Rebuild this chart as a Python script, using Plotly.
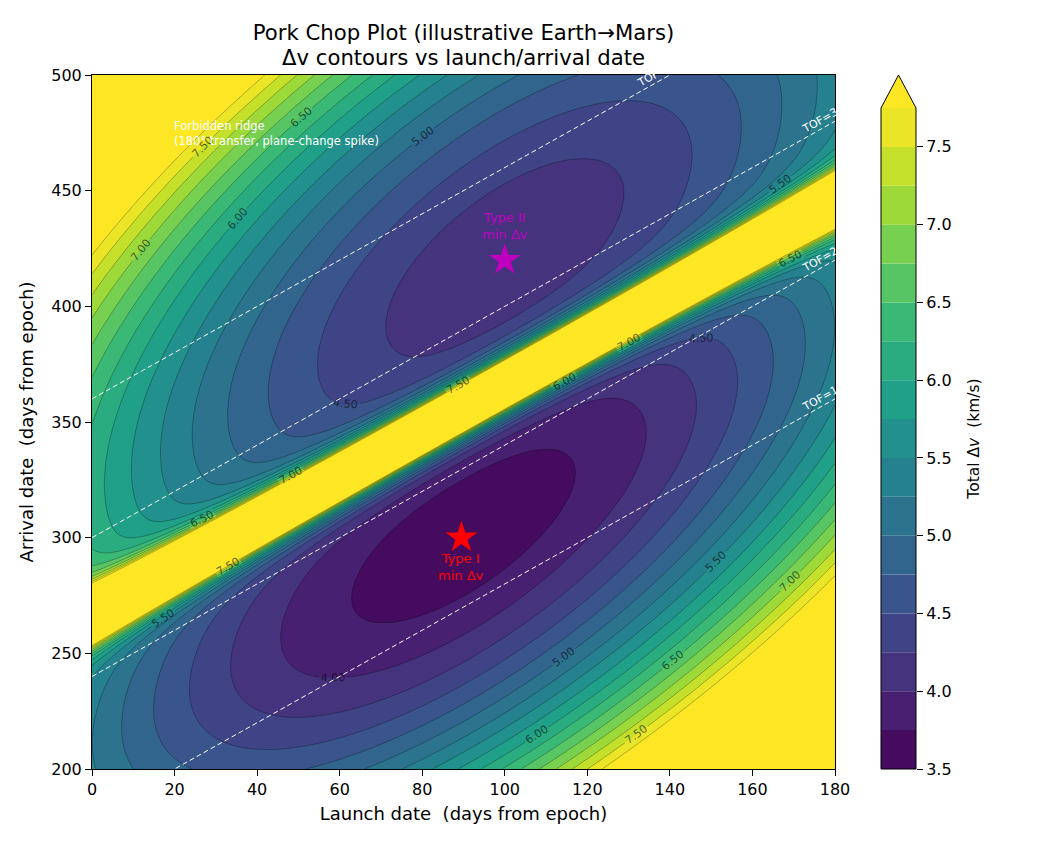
import numpy as np
import plotly.graph_objects as go
from plotly.colors import sample_colorscale

# ---------------- data ----------------
launch_range = [0, 180]          # launch date, days from epoch
arrival_range = [200, 500]       # arrival date, days from epoch
grid_step = 1.0

# contour levels of total delta-v (km/s)
levels = [3.50, 3.75, 4.00, 4.25, 4.50, 4.75, 5.00, 5.25, 5.50,
          5.75, 6.00, 6.25, 6.50, 6.75, 7.00, 7.25, 7.50, 7.75]
label_levels = [4.00, 4.50, 5.00, 5.50, 6.00, 6.50, 7.00, 7.50]
cbar_ticks = [3.5, 4.0, 4.5, 5.0, 5.5, 6.0, 6.5, 7.0, 7.5]

# Type I basin (launch, TOF) centre, minimum and widths
type1_center = [90, 211]
type1_min = 3.60
type1_width = [70, 68]
# Type II basin
type2_center = [100, 320]
type2_min = 4.08
type2_width = [70, 80]
# 180-degree transfer ridge
ridge_tof = 266
ridge_height = 50.0
ridge_decay = 4.0

# time-of-flight guide lines (days)
tof_lines = [180, 240, 300, 360]

# minimum markers
min_names = ["Type I<br>min Δv", "Type II<br>min Δv"]
min_launch = [89.5, 100]
min_arrival = [300, 420]
min_colors = ["#ff0000", "#bf00bf"]

# ---------------- field ----------------
launch = np.arange(launch_range[0], launch_range[1] + grid_step, grid_step)
arrival = np.arange(arrival_range[0], arrival_range[1] + grid_step, grid_step)
U, V = np.meshgrid(launch, arrival)
T = V - U
f1 = type1_min + ((U - type1_center[0]) / type1_width[0]) ** 2 + ((T - type1_center[1]) / type1_width[1]) ** 2
f2 = type2_min + ((U - type2_center[0]) / type2_width[0]) ** 2 + ((T - type2_center[1]) / type2_width[1]) ** 2
Z = np.where(T < ridge_tof, f1, f2) + ridge_height * np.exp(-np.abs(T - ridge_tof) / ridge_decay)
Z = np.round(np.minimum(Z, 9.0), 3)

# ---------------- colours ----------------
nb = len(levels) - 1
band_colors = sample_colorscale("Viridis", [(k + 0.5) / nb for k in range(nb)])
over_color = "#fde725"
fill_cols = [band_colors[0]] + band_colors + [over_color]   # background, bands, over
nfill = len(levels)
cscale = []
edges = [0.0] + [(j + 0.5) / nfill for j in range(nfill)] + [1.0]
for j, c in enumerate(fill_cols):
    cscale.append([edges[j], c])
    cscale.append([edges[j + 1], c])

FONT = "DejaVu Sans"
line_col = "rgba(0,0,0,0.55)"

fig = go.Figure()
cs = levels[1] - levels[0]
fig.add_trace(go.Contour(
    x=launch, y=arrival, z=Z, colorscale=cscale, showscale=False,
    zmin=levels[0] - cs / 2, zmax=levels[-1] + cs / 2,
    contours=dict(start=levels[0], end=levels[-1], size=cs, coloring="fill", showlines=False),
    line=dict(width=0), hoverinfo="skip"))
fig.add_trace(go.Contour(
    x=launch, y=arrival, z=Z, showscale=False,
    contours=dict(start=levels[1], end=levels[-1], size=2 * cs, coloring="none"),
    line=dict(color=line_col, width=0.5), hoverinfo="skip"))
fig.add_trace(go.Contour(
    x=launch, y=arrival, z=Z, showscale=False,
    contours=dict(start=label_levels[0], end=label_levels[-1], size=label_levels[1] - label_levels[0],
                  coloring="none", showlabels=True, labelformat=".2f",
                  labelfont=dict(size=11, color="rgba(0,0,0,0.6)", family=FONT)),
    line=dict(color=line_col, width=0.5), hoverinfo="skip"))

# TOF guide lines
for tof in tof_lines:
    fig.add_trace(go.Scatter(
        x=launch_range, y=[launch_range[0] + tof, launch_range[1] + tof], mode="lines",
        line=dict(color="white", width=1, dash="5px,3px"), hoverinfo="skip", showlegend=False))
    u0 = min(172, arrival_range[1] - tof - 8)
    fig.add_annotation(x=u0, y=u0 + tof, text=f"TOF={tof} d", showarrow=False,
                       textangle=-29.3, xanchor="center", yanchor="middle",
                       xshift=29, yshift=25, font=dict(size=11, color="white", family=FONT))

# minimum markers
for name, x, y, c in zip(min_names, min_launch, min_arrival, min_colors):
    fig.add_trace(go.Scatter(x=[x], y=[y], mode="markers", showlegend=False, hoverinfo="skip",
                             marker=dict(symbol="star", size=24, color=c, line=dict(width=0))))
fig.add_annotation(x=min_launch[0], y=min_arrival[0] - 5, text=min_names[0], showarrow=False,
                   yanchor="top", xanchor="center", font=dict(size=13, color=min_colors[0], family=FONT))
fig.add_annotation(x=min_launch[1], y=min_arrival[1] + 7, text=min_names[1], showarrow=False,
                   yanchor="bottom", xanchor="center", font=dict(size=13, color=min_colors[1], family=FONT))

fig.add_annotation(x=19.3, y=467.5, text="Forbidden ridge<br>(180° transfer, plane-change spike)",
                   showarrow=False, xanchor="left", yanchor="bottom", align="left",
                   font=dict(size=11.5, color="white", family=FONT))

# ---------------- colour bar (drawn as bars on its own axes) ----------------
fig.add_trace(go.Bar(x=[0.5] * nb, y=[levels[k + 1] - levels[k] for k in range(nb)], base=levels[:-1],
                     width=1, marker=dict(color=band_colors, line=dict(width=0)),
                     xaxis="x2", yaxis="y2", hoverinfo="skip", showlegend=False))

PW = 1040 - 92 - 100
PH = 694
cb_x0 = (881 - 92) / PW
cb_x1 = (916 - 92) / PW
cb_top = (769 - 108) / PH
cb_mid = (cb_x0 + cb_x1) / 2
fig.add_shape(type="path", xref="paper", yref="paper",
              path=f"M {cb_x0},{cb_top} L {cb_x1},{cb_top} L {cb_mid},1 Z",
              fillcolor=over_color, line=dict(width=0))
fig.add_shape(type="path", xref="paper", yref="paper",
              path=f"M {cb_x0},{cb_top} L {cb_x0},0 L {cb_x1},0 L {cb_x1},{cb_top} L {cb_mid},1 Z",
              line=dict(color="black", width=1))

# second title line
fig.add_annotation(xref="paper", yref="paper", x=(743 / PW) / 2, y=(769 - 58) / PH,
                   text="Δv contours vs launch/arrival date", showarrow=False,
                   xanchor="center", yanchor="middle", font=dict(size=21.2, family=FONT, color="black"))

fig.update_layout(
    width=1040, height=845,
    margin=dict(l=92, r=100, t=75, b=76),
    paper_bgcolor="white", plot_bgcolor="white",
    font=dict(family=FONT, size=16, color="black"),
    showlegend=False,
    title=dict(text="Pork Chop Plot (illustrative Earth→Mars)",
               x=(743 / PW) / 2, xref="paper", xanchor="center",
               y=1 - 32.5 / 845, yref="container", yanchor="middle",
               font=dict(size=21.2, family=FONT)),
    xaxis=dict(domain=[0, 743 / PW], range=launch_range, tickvals=list(range(0, 181, 20)),
               ticks="outside", ticklen=6, tickwidth=1, tickcolor="black",
               showline=True, mirror=True, linecolor="black", linewidth=1,
               showgrid=False, zeroline=False, automargin=False,
               title=dict(text="Launch date\u00a0 (days from epoch)", font=dict(size=18), standoff=9)),
    yaxis=dict(domain=[0, 1], range=arrival_range, tickvals=list(range(200, 501, 50)),
               ticks="outside", ticklen=6, tickwidth=1, tickcolor="black",
               showline=True, mirror=True, linecolor="black", linewidth=1,
               showgrid=False, zeroline=False, automargin=False,
               title=dict(text="Arrival date\u00a0 (days from epoch)", font=dict(size=18), standoff=12)),
    xaxis2=dict(domain=[cb_x0, cb_x1], range=[0, 1], anchor="y2", visible=False, fixedrange=True),
    yaxis2=dict(domain=[0, cb_top], range=[levels[0], levels[-1]], anchor="x2", side="right",
                tickvals=cbar_ticks, ticktext=[f"{t:.1f}" for t in cbar_ticks],
                ticks="outside", ticklen=6, tickwidth=1, tickcolor="black",
                showline=False, showgrid=False, zeroline=False, automargin=False,
                title=dict(text="Total Δ<i>v</i>\u00a0 (km/s)", font=dict(size=15.5), standoff=17)),
)

fig.write_html("out.html")
